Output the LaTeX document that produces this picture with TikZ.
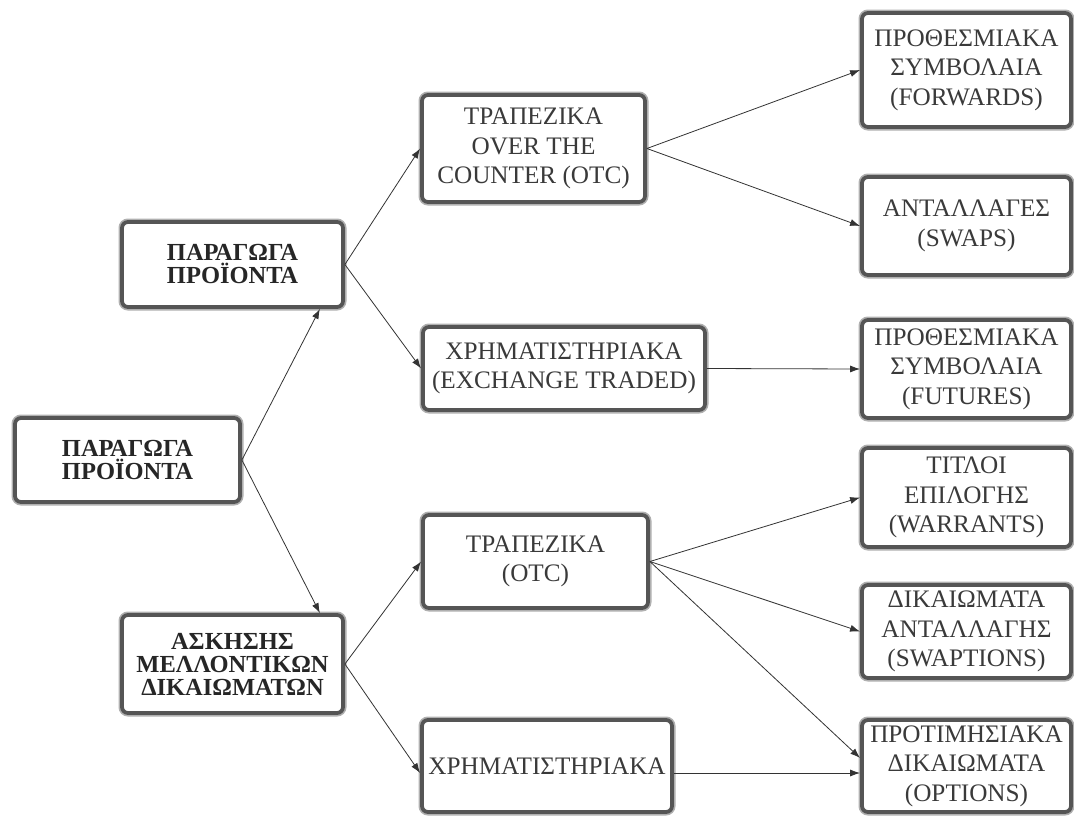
\documentclass[tikz,border=0pt]{standalone}
\usepackage{fontspec}
\setmainfont{Liberation Serif}
\usetikzlibrary{arrows.meta}
\definecolor{boxline}{HTML}{555555}
\definecolor{boxhalo}{HTML}{B0B0B0}
\definecolor{txt}{HTML}{3A3A3A}
\definecolor{arr}{HTML}{333333}
\begin{document}
\begin{tikzpicture}[x=1pt,y=-1pt,
  box/.style={draw=boxline, line width=3.8pt, rounded corners=6pt, fill=white,
    preaction={draw=boxhalo, line width=7pt},
    align=center, inner sep=0pt, text=txt, anchor=center,
    font=\fontsize{25.2}{29.5}\selectfont},
  bbox/.style={box, text=black!85, font=\fontsize{24.5}{23}\selectfont\bfseries},
  conn/.style={draw=arr, line width=0.8pt, -{Latex[length=10pt,width=7pt]}}]
\useasboundingbox (0,0) rectangle (1074,817);
\fill[white] (0,0) rectangle (1074,817);

% left column
\node[bbox, minimum width=225pt, minimum height=84pt] (root) at (127.5,460) {ΠΑΡΑΓΩΓΑ\\ΠΡΟΪΟΝΤΑ};
\node[bbox, minimum width=221pt, minimum height=85pt] (pp) at (232.5,264.5) {ΠΑΡΑΓΩΓΑ\\ΠΡΟΪΟΝΤΑ};
\node[bbox, minimum width=221pt, minimum height=98pt] (ask) at (232.5,664) {ΑΣΚΗΣΗΣ\\ΜΕΛΛΟΝΤΙΚΩΝ\\ΔΙΚΑΙΩΜΑΤΩΝ};

% middle column
\node[box, minimum width=223pt, minimum height=107pt] (otc1) at (533.5,148.5) {ΤΡΑΠΕΖΙΚΑ\\OVER THE\\COUNTER (OTC)};
\node[box, minimum width=282pt, minimum height=83pt] (exch) at (564,368.5) {ΧΡΗΜΑΤΙΣΤΗΡΙΑΚΑ\\(EXCHANGE TRADED)};
\node[box, minimum width=225pt, minimum height=93pt] (otc2) at (535.5,561.5) {ΤΡΑΠΕΖΙΚΑ\\(OTC)};
\node[box, minimum width=250pt, minimum height=92pt] (xrhm) at (547,766) {ΧΡΗΜΑΤΙΣΤΗΡΙΑΚΑ};

% right column
\node[box, minimum width=209pt, minimum height=114pt] (fwd) at (966.5,70) {ΠΡΟΘΕΣΜΙΑΚΑ\\ΣΥΜΒΟΛΑΙΑ\\(FORWARDS)};
\node[box, minimum width=209pt, minimum height=98pt] (swaps) at (966.5,226) {ΑΝΤΑΛΛΑΓΕΣ\\(SWAPS)};
\node[box, minimum width=209pt, minimum height=98pt] (fut) at (966.5,369) {ΠΡΟΘΕΣΜΙΑΚΑ\\ΣΥΜΒΟΛΑΙΑ\\(FUTURES)};
\node[box, minimum width=209pt, minimum height=99pt] (warr) at (966.5,497.5) {ΤΙΤΛΟΙ\\ΕΠΙΛΟΓΗΣ\\(WARRANTS)};
\node[box, minimum width=209pt, minimum height=93pt] (swpt) at (966.5,631.5) {ΔΙΚΑΙΩΜΑΤΑ\\ΑΝΤΑΛΛΑΓΗΣ\\(SWAPTIONS)};
\node[box, minimum width=209pt, minimum height=92pt] (opt) at (966.5,766) {ΠΡΟΤΙΜΗΣΙΑΚΑ\\ΔΙΚΑΙΩΜΑΤΑ\\(OPTIONS)};

% connectors
\draw[conn] (root.east) -- ([xshift=-25pt]pp.south east);
\draw[conn] (root.east) -- ([xshift=-25pt]ask.north east);
\draw[conn] (pp.east) -- (otc1.west);
\draw[conn] (pp.east) -- (exch.west);
\draw[conn] (ask.east) -- (otc2.west);
\draw[conn] (ask.east) -- ([yshift=-7pt]xrhm.west);
\draw[conn] (otc1.east) -- (fwd.west);
\draw[conn] (otc1.east) -- (swaps.west);
\draw[conn] (exch.east) -- (fut.west);
\draw[conn] (otc2.east) -- (warr.west);
\draw[conn] (otc2.east) -- (swpt.west);
\draw[conn] (otc2.east) -- ([yshift=8pt]opt.west);
\draw[conn] ([yshift=-7pt]xrhm.east) -- ([yshift=-7pt]opt.west);
\end{tikzpicture}
\end{document}
